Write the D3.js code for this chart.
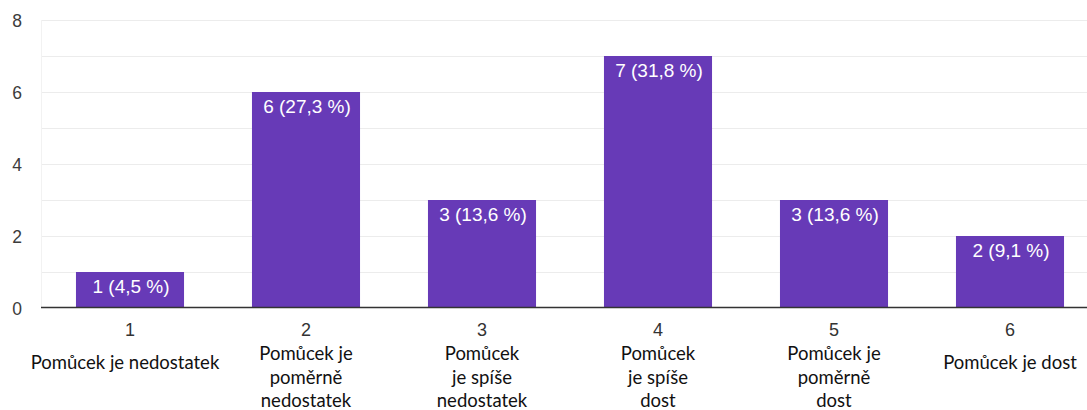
<!DOCTYPE html>
<html><head><meta charset="utf-8">
<script src="https://cdn.jsdelivr.net/npm/d3@7"></script>
<style>body{margin:0;background:#fff}svg{display:block}</style>
</head><body>
<svg id="c" width="1087" height="410"></svg>
<script>
const categories = ["1","2","3","4","5","6"];
const values = [1,6,3,7,3,2];
const valueLabels = ["1 (4,5 %)","6 (27,3 %)","3 (13,6 %)","7 (31,8 %)","3 (13,6 %)","2 (9,1 %)"];
const categoryTexts = [
  ["Pomůcek je nedostatek"],
  ["Pomůcek je","poměrně","nedostatek"],
  ["Pomůcek","je spíše","nedostatek"],
  ["Pomůcek","je spíše","dost"],
  ["Pomůcek je","poměrně","dost"],
  ["Pomůcek je dost"]
];
const yTicks = [0,2,4,6,8];

const svg = d3.select("#c");
const x = d3.scaleBand().domain(categories).range([42,1098]).paddingInner(0.386).paddingOuter(0.193);
const y = d3.scaleLinear().domain([0,8]).range([308,20]);

// grid
svg.append("g").selectAll("line").data(d3.range(1,9)).join("line")
  .attr("x1",41).attr("x2",1087).attr("y1",d=>y(d)+0.5).attr("y2",d=>y(d)+0.5)
  .attr("stroke","#ececec").attr("stroke-width",1);
svg.append("line").attr("x1",41.5).attr("x2",41.5).attr("y1",y(8)).attr("y2",y(0))
  .attr("stroke","#f2f2f2");

// y axis labels
const yAxis = d3.axisLeft(y).tickValues(yTicks).tickSize(0).tickPadding(0);
const ya = svg.append("g").attr("transform","translate(22,1)").call(yAxis);
ya.select(".domain").remove();
ya.selectAll("text").attr("font-family","Liberation Sans, Arial, sans-serif").attr("font-size",17.5).attr("fill","#3c3c3c");

// bars
svg.append("g").selectAll("rect").data(values).join("rect")
  .attr("x",(d,i)=>x(categories[i])).attr("width",x.bandwidth())
  .attr("y",d=>y(d)).attr("height",d=>y(0)-y(d)).attr("fill","#673ab7");

// value labels
svg.append("g").selectAll("text").data(values).join("text")
  .attr("x",(d,i)=>x(categories[i])+x.bandwidth()/2+1).attr("y",d=>y(d)+21)
  .attr("text-anchor","middle").attr("font-family","Liberation Sans, Arial, sans-serif")
  .attr("font-size",19).attr("fill","#fff").text((d,i)=>valueLabels[i]);

// baseline axis
svg.append("line").attr("x1",41).attr("x2",1087).attr("y1",307.5).attr("y2",307.5)
  .attr("stroke","#333").attr("stroke-width",1.3);

// x tick labels
const xAxis = d3.axisBottom(x).tickSize(0).tickPadding(0);
const xa = svg.append("g").attr("transform","translate(0,323)").call(xAxis);
xa.select(".domain").remove();
xa.selectAll("text").attr("font-family","Liberation Sans, Arial, sans-serif").attr("font-size",18).attr("fill","#333").attr("dy","0.71em");

// category texts
const cg = svg.append("g").selectAll("text").data(categoryTexts).join("text")
  .attr("text-anchor","middle").attr("font-family","Lato, sans-serif")
  .attr("font-size",18.5).attr("fill","#111")
  .attr("transform",(d,i)=>`translate(${x(categories[i])+x.bandwidth()/2 - (i===0?5:0)},0)`);
cg.each(function(lines){
  const t = d3.select(this);
  const start = lines.length===1 ? 369 : 360;
  lines.forEach((l,j)=>t.append("tspan").attr("x",0).attr("y",start+j*23.5).text(l));
});
</script>
</body></html>
